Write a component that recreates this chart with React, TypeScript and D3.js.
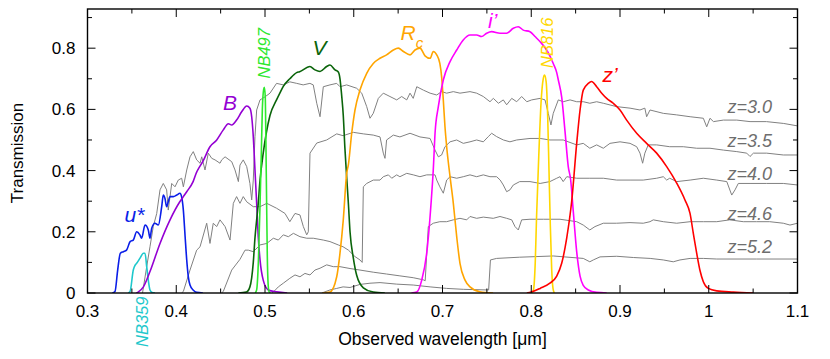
import React from 'react';
import * as d3 from 'd3';

type Pt = [number, number];

// ---------- axis ticks ----------
const xMajorTicks = [0.3, 0.4, 0.5, 0.6, 0.7, 0.8, 0.9, 1.0, 1.1];
const xTickLabels = ['0.3', '0.4', '0.5', '0.6', '0.7', '0.8', '0.9', '1', '1.1'];
const xMinorTicks = [0.35, 0.45, 0.55, 0.65, 0.75, 0.85, 0.95, 1.05];
const yMajorTicks = [0, 0.2, 0.4, 0.6, 0.8];
const yTickLabels = ['0', '0.2', '0.4', '0.6', '0.8'];
const yMinorTicks = [0.1, 0.3, 0.5, 0.7, 0.9];

// ---------- filter transmission curves [wavelength µm, transmission] ----------
const uStar: Pt[] = [[0.328,0],[0.331,0.005],[0.334,0.075],[0.337,0.13],[0.3404,0.135],[0.344,0.14],[0.348,0.168],[0.3516,0.173],[0.3554,0.2],[0.359,0.19],[0.361,0.179],[0.3648,0.222],[0.3685,0.206],[0.3704,0.179],[0.3723,0.211],[0.376,0.228],[0.3798,0.222],[0.3836,0.282],[0.3854,0.32],[0.3873,0.309],[0.3892,0.282],[0.391,0.298],[0.393,0.315],[0.3967,0.315],[0.4005,0.32],[0.4042,0.326],[0.406,0.315],[0.408,0.271],[0.41,0.184],[0.4118,0.108],[0.4136,0.053],[0.4155,0.026],[0.419,0.01],[0.423,0.002],[0.43,0]];
const nb359: Pt[] = [[0.346,0],[0.348,0.005],[0.3516,0.075],[0.3535,0.09],[0.3554,0.097],[0.359,0.113],[0.363,0.13],[0.3648,0.13],[0.3667,0.086],[0.3685,0.042],[0.3704,0.01],[0.3727,0.002],[0.376,0]];
const bBand: Pt[] = [[0.355,0],[0.357,0.003],[0.363,0.02],[0.3704,0.07],[0.3817,0.162],[0.393,0.239],[0.404,0.298],[0.408,0.315],[0.4118,0.331],[0.419,0.364],[0.423,0.395],[0.4248,0.405],[0.43,0.43],[0.438,0.478],[0.4456,0.5],[0.453,0.533],[0.4587,0.553],[0.4625,0.549],[0.468,0.565],[0.4737,0.592],[0.4794,0.611],[0.483,0.604],[0.485,0.576],[0.4868,0.511],[0.4887,0.402],[0.4906,0.293],[0.4924,0.184],[0.4944,0.108],[0.498,0.042],[0.5037,0.01],[0.513,0.004],[0.525,0]];
const nb497: Pt[] = [[0.489,0],[0.4906,0.01],[0.4925,0.1],[0.4945,0.3],[0.4958,0.45],[0.497,0.6],[0.4985,0.665],[0.4993,0.672],[0.5003,0.64],[0.501,0.5],[0.5018,0.3],[0.5026,0.12],[0.5035,0.03],[0.5045,0.005],[0.506,0]];
const vBand: Pt[] = [[0.47,0],[0.479,0.003],[0.483,0.02],[0.4868,0.1],[0.4887,0.18],[0.4924,0.293],[0.4944,0.369],[0.498,0.457],[0.5056,0.58],[0.513,0.631],[0.517,0.655],[0.5206,0.675],[0.528,0.7],[0.5357,0.72],[0.539,0.723],[0.5506,0.74],[0.5563,0.729],[0.562,0.724],[0.5695,0.74],[0.5732,0.745],[0.5789,0.729],[0.5826,0.722],[0.5845,0.7],[0.5864,0.645],[0.5882,0.58],[0.59,0.475],[0.592,0.38],[0.594,0.29],[0.5958,0.2],[0.5995,0.115],[0.6033,0.058],[0.6108,0.017],[0.622,0.003],[0.635,0]];
const rcBand: Pt[] = [[0.565,0],[0.5732,0.003],[0.5808,0.053],[0.5845,0.13],[0.5882,0.239],[0.592,0.39],[0.594,0.42],[0.5977,0.522],[0.6014,0.598],[0.607,0.663],[0.6146,0.718],[0.622,0.75],[0.6296,0.767],[0.637,0.778],[0.6446,0.794],[0.6502,0.8],[0.656,0.789],[0.6634,0.778],[0.669,0.794],[0.6746,0.8],[0.6803,0.775],[0.686,0.767],[0.6896,0.789],[0.6935,0.778],[0.697,0.75],[0.699,0.707],[0.7009,0.631],[0.7028,0.543],[0.7047,0.478],[0.7085,0.38],[0.7122,0.293],[0.716,0.184],[0.7197,0.097],[0.7254,0.042],[0.731,0.02],[0.742,0.004],[0.757,0]];
const iBand: Pt[] = [[0.665,0],[0.671,0.003],[0.6766,0.042],[0.6822,0.13],[0.688,0.33],[0.6896,0.402],[0.6916,0.522],[0.6953,0.609],[0.7009,0.696],[0.7085,0.756],[0.716,0.794],[0.7234,0.827],[0.731,0.843],[0.7385,0.843],[0.744,0.838],[0.7498,0.849],[0.7554,0.854],[0.7648,0.849],[0.7723,0.849],[0.7798,0.865],[0.7854,0.87],[0.791,0.859],[0.7986,0.854],[0.8042,0.838],[0.81,0.821],[0.8174,0.794],[0.8248,0.75],[0.8287,0.72],[0.8305,0.696],[0.8343,0.64],[0.838,0.53],[0.8417,0.413],[0.8444,0.37],[0.8474,0.265],[0.8512,0.135],[0.855,0.055],[0.8586,0.025],[0.8643,0.01],[0.8737,0.002],[0.885,0]];
const nb816: Pt[] = [[0.8005,0],[0.8025,0.01],[0.8045,0.1],[0.806,0.25],[0.8085,0.45],[0.811,0.62],[0.8135,0.7],[0.815,0.712],[0.8168,0.69],[0.8185,0.58],[0.82,0.4],[0.8215,0.22],[0.823,0.08],[0.8245,0.015],[0.826,0]];
const zBand: Pt[] = [[0.795,0],[0.8,0.003],[0.81,0.015],[0.821,0.032],[0.8287,0.055],[0.8343,0.097],[0.84,0.18],[0.8456,0.3],[0.8512,0.489],[0.855,0.598],[0.8586,0.663],[0.8643,0.685],[0.868,0.691],[0.8737,0.674],[0.8794,0.653],[0.885,0.636],[0.8924,0.62],[0.9,0.598],[0.9075,0.565],[0.9188,0.522],[0.93,0.489],[0.9413,0.457],[0.9526,0.413],[0.9639,0.359],[0.9732,0.304],[0.9789,0.26],[0.9826,0.195],[0.9864,0.13],[0.99,0.075],[0.9939,0.037],[0.9995,0.015],[1.009,0.007],[1.0277,0.003],[1.05,0]];

// ---------- model galaxy spectra (arbitrary scaling) ----------
const specZ30: Pt[] = [[0.362,0],[0.3667,0.086],[0.3704,0.151],[0.3741,0.217],[0.378,0.26],[0.3817,0.337],[0.3854,0.358],[0.3892,0.337],[0.391,0.271],[0.3949,0.358],[0.3986,0.347],[0.4023,0.369],[0.4061,0.375],[0.408,0.347],[0.4118,0.402],[0.4155,0.445],[0.4192,0.462],[0.423,0.435],[0.4268,0.424],[0.4287,0.445],[0.4324,0.402],[0.4361,0.457],[0.44,0.44],[0.4437,0.435],[0.4493,0.424],[0.4512,0.435],[0.455,0.445],[0.4625,0.429],[0.4662,0.402],[0.47,0.364],[0.4718,0.418],[0.4755,0.435],[0.4794,0.413],[0.483,0.358],[0.485,0.304],[0.4868,0.369],[0.4887,0.511],[0.4906,0.598],[0.4944,0.631],[0.5,0.641],[0.5056,0.653],[0.513,0.685],[0.5206,0.68],[0.528,0.69],[0.5357,0.685],[0.543,0.68],[0.5506,0.685],[0.5544,0.68],[0.5583,0.62],[0.562,0.576],[0.5657,0.674],[0.5732,0.68],[0.5808,0.685],[0.5845,0.674],[0.592,0.68],[0.6033,0.669],[0.609,0.653],[0.6146,0.609],[0.6183,0.571],[0.622,0.587],[0.6277,0.636],[0.6333,0.653],[0.6408,0.642],[0.6484,0.631],[0.654,0.642],[0.6597,0.631],[0.6634,0.653],[0.667,0.636],[0.671,0.674],[0.6784,0.663],[0.686,0.653],[0.6935,0.647],[0.699,0.658],[0.7047,0.653],[0.7122,0.658],[0.7197,0.653],[0.731,0.658],[0.7385,0.653],[0.746,0.642],[0.7535,0.625],[0.7573,0.636],[0.763,0.62],[0.7685,0.631],[0.7723,0.615],[0.778,0.636],[0.7836,0.625],[0.7892,0.642],[0.795,0.625],[0.8005,0.631],[0.81,0.636],[0.8155,0.631],[0.8192,0.587],[0.8222,0.549],[0.8248,0.587],[0.8305,0.631],[0.836,0.625],[0.8437,0.631],[0.8512,0.625],[0.8587,0.625],[0.866,0.62],[0.8737,0.625],[0.8812,0.62],[0.8962,0.609],[0.9113,0.604],[0.9225,0.598],[0.928,0.604],[0.93,0.576],[0.9338,0.598],[0.9488,0.587],[0.9639,0.582],[0.979,0.576],[0.9939,0.571],[0.9977,0.543],[1.0014,0.571],[1.0053,0.56],[1.0165,0.565],[1.0316,0.565],[1.0465,0.56],[1.065,0.56],[1.0845,0.554],[1.1,0.546]];
const specZ35: Pt[] = [[0.406,0],[0.408,0.005],[0.4155,0.075],[0.423,0.14],[0.4268,0.151],[0.4343,0.228],[0.438,0.162],[0.4417,0.228],[0.4456,0.217],[0.4493,0.239],[0.455,0.217],[0.4606,0.173],[0.4643,0.293],[0.468,0.315],[0.4718,0.293],[0.4755,0.315],[0.4794,0.298],[0.4868,0.282],[0.4944,0.282],[0.502,0.293],[0.513,0.277],[0.5225,0.26],[0.528,0.233],[0.5338,0.26],[0.5394,0.255],[0.5432,0.217],[0.547,0.19],[0.5488,0.2],[0.5507,0.457],[0.5583,0.49],[0.5695,0.5],[0.5808,0.52],[0.588,0.514],[0.5995,0.525],[0.6108,0.52],[0.622,0.516],[0.6296,0.51],[0.6333,0.457],[0.6352,0.44],[0.637,0.5],[0.6446,0.516],[0.652,0.51],[0.6634,0.522],[0.6746,0.51],[0.686,0.505],[0.6916,0.467],[0.6953,0.445],[0.699,0.451],[0.7028,0.478],[0.7085,0.494],[0.716,0.5],[0.7234,0.489],[0.731,0.494],[0.7385,0.5],[0.746,0.494],[0.7516,0.511],[0.7554,0.522],[0.761,0.511],[0.7686,0.5],[0.776,0.494],[0.7836,0.5],[0.7986,0.505],[0.81,0.505],[0.821,0.5],[0.836,0.5],[0.8512,0.484],[0.8586,0.489],[0.866,0.473],[0.8737,0.484],[0.8812,0.473],[0.8887,0.489],[0.9,0.494],[0.9113,0.489],[0.9188,0.478],[0.9225,0.457],[0.9255,0.424],[0.928,0.457],[0.9318,0.484],[0.9413,0.484],[0.956,0.478],[0.9713,0.478],[0.9864,0.473],[1.0014,0.473],[1.0165,0.467],[1.0316,0.462],[1.0428,0.457],[1.0465,0.446],[1.0503,0.457],[1.0653,0.457],[1.084,0.451],[1.1,0.451]];
const specZ40: Pt[] = [[0.451,0],[0.453,0.005],[0.4625,0.075],[0.4718,0.11],[0.4775,0.14],[0.4812,0.14],[0.4868,0.135],[0.4944,0.157],[0.502,0.162],[0.5094,0.179],[0.515,0.173],[0.5206,0.19],[0.5263,0.184],[0.532,0.195],[0.5394,0.184],[0.547,0.179],[0.5544,0.179],[0.5657,0.173],[0.5732,0.168],[0.5826,0.157],[0.588,0.151],[0.594,0.14],[0.6014,0.119],[0.607,0.108],[0.6095,0.1],[0.6108,0.347],[0.6146,0.358],[0.622,0.369],[0.6296,0.369],[0.6333,0.38],[0.639,0.386],[0.6428,0.375],[0.6484,0.386],[0.652,0.38],[0.6597,0.391],[0.6671,0.386],[0.6746,0.38],[0.6822,0.386],[0.6916,0.386],[0.6935,0.369],[0.697,0.347],[0.7009,0.326],[0.7047,0.369],[0.7085,0.38],[0.716,0.375],[0.7234,0.38],[0.731,0.386],[0.7385,0.38],[0.746,0.386],[0.7535,0.38],[0.761,0.38],[0.765,0.369],[0.7685,0.353],[0.7723,0.331],[0.776,0.337],[0.7798,0.353],[0.787,0.364],[0.7986,0.364],[0.81,0.358],[0.821,0.364],[0.8287,0.375],[0.8324,0.38],[0.836,0.364],[0.84,0.38],[0.8512,0.375],[0.866,0.375],[0.8812,0.375],[0.8962,0.369],[0.9113,0.369],[0.9262,0.369],[0.9413,0.375],[0.9488,0.38],[0.9526,0.369],[0.956,0.375],[0.9639,0.364],[0.979,0.369],[0.9939,0.375],[1.009,0.369],[1.0203,0.364],[1.0259,0.32],[1.0296,0.337],[1.0333,0.358],[1.0465,0.358],[1.0653,0.358],[1.084,0.358],[1.1,0.353]];
const specZ46: Pt[] = [[0.508,0],[0.5094,0.003],[0.515,0.02],[0.5206,0.032],[0.528,0.048],[0.5338,0.059],[0.5394,0.053],[0.545,0.064],[0.5507,0.059],[0.5563,0.075],[0.562,0.081],[0.5695,0.092],[0.577,0.086],[0.5845,0.086],[0.5958,0.08],[0.607,0.075],[0.622,0.068],[0.637,0.062],[0.652,0.056],[0.667,0.05],[0.6784,0.043],[0.6805,0.04],[0.684,0.217],[0.6896,0.228],[0.697,0.233],[0.7047,0.233],[0.7122,0.239],[0.7197,0.244],[0.7273,0.239],[0.731,0.25],[0.7385,0.244],[0.746,0.248],[0.7572,0.244],[0.7648,0.25],[0.7723,0.244],[0.778,0.239],[0.7817,0.217],[0.7854,0.206],[0.7892,0.239],[0.7986,0.241],[0.8136,0.241],[0.8324,0.241],[0.8512,0.233],[0.8586,0.222],[0.866,0.206],[0.8718,0.217],[0.8812,0.228],[0.8962,0.228],[0.9113,0.23],[0.9262,0.228],[0.9338,0.233],[0.9375,0.239],[0.9488,0.233],[0.9639,0.228],[0.979,0.233],[0.9939,0.233],[1.009,0.233],[1.0236,0.239],[1.0389,0.233],[1.054,0.233],[1.0687,0.233],[1.084,0.228],[1.0915,0.222],[1.1,0.228]];
const specZ52: Pt[] = [[0.564,0],[0.5732,0.01],[0.5808,0.015],[0.588,0.02],[0.5958,0.018],[0.607,0.028],[0.6183,0.032],[0.6296,0.034],[0.6484,0.029],[0.667,0.026],[0.686,0.02],[0.7047,0.015],[0.7234,0.012],[0.7498,0.01],[0.752,0.01],[0.754,0.108],[0.761,0.113],[0.787,0.117],[0.8248,0.121],[0.8586,0.113],[0.866,0.102],[0.8699,0.108],[0.8775,0.118],[0.8963,0.12],[0.915,0.116],[0.934,0.113],[0.9488,0.108],[0.96,0.102],[0.9676,0.108],[0.979,0.113],[0.9939,0.113],[1.009,0.111],[1.054,0.111],[1.1,0.111]];

const spectra = [specZ30, specZ35, specZ40, specZ46, specZ52];
const spectrumLabels = ['z=3.0', 'z=3.5', 'z=4.0', 'z=4.6', 'z=5.2'];

const FONT = '"Liberation Sans", Arial, Helvetica, sans-serif';

export default function App() {
  const W = 830, H = 359;
  const left = 87.5, right = 797.5, top = 9, bottom = 293;
  const x = d3.scaleLinear().domain([0.3, 1.1]).range([left, right]);
  const y = d3.scaleLinear().domain([0, 0.928]).range([bottom, top]);

  const smooth = d3.line<Pt>().x(d => x(d[0])).y(d => y(d[1])).curve(d3.curveMonotoneX);
  const jagged = d3.line<Pt>().x(d => x(d[0])).y(d => y(d[1]));

  const filters: { data: Pt[]; color: string }[] = [
    { data: uStar, color: '#0a1ee8' },
    { data: nb359, color: '#1ec8cc' },
    { data: bBand, color: '#9400d3' },
    { data: vBand, color: '#0a640a' },
    { data: nb497, color: '#2ee82e' },
    { data: rcBand, color: '#ffa500' },
    { data: iBand, color: '#ff00ff' },
    { data: nb816, color: '#ffd700' },
    { data: zBand, color: '#ff0000' },
  ];

  const majLen = 8, minLen = 4.5;
  const specLabelY = [113, 146.5, 180, 219.5, 253];

  return (
    <svg width={W} height={H} style={{ position: 'absolute', left: 0, top: 0, background: '#fff' }}
      fontFamily={FONT}>
      <defs>
        <clipPath id="plotclip">
          <rect x={left} y={top} width={right - left} height={bottom - top} />
        </clipPath>
      </defs>
      <rect x={0} y={0} width={W} height={H} fill="#fff" />
      <g clipPath="url(#plotclip)">
        {spectra.map((s, i) => (
          <path key={'s' + i} d={jagged(s) || ''} fill="none" stroke="#808080" strokeWidth={1} />
        ))}
        {filters.map((f, i) => (
          <path key={'f' + i} d={smooth(f.data) || ''} fill="none" stroke={f.color} strokeWidth={1.6} />
        ))}
      </g>

      {/* spectrum labels */}
      {spectrumLabels.map((t, i) => (
        <text key={'sl' + i} x={727.5} y={specLabelY[i]} fontSize={18} fontStyle="italic" fill="#6e6e6e">{t}</text>
      ))}

      {/* filter labels */}
      <text x={124.5} y={221.5} fontSize={21} fontStyle="italic" fill="#0a1ee8">u*</text>
      <text x={223} y={110} fontSize={21} fontStyle="italic" fill="#9400d3">B</text>
      <text x={312.5} y={55} fontSize={21} fontStyle="italic" fill="#0a640a">V</text>
      <text x={400.5} y={40} fontSize={21} fontStyle="italic" fill="#ffa500">R<tspan fontSize={15} dy={8}>c</tspan></text>
      <text x={488} y={28} fontSize={21} fontStyle="italic" fill="#ff00ff">i’</text>
      <text x={602.5} y={81.5} fontSize={21} fontStyle="italic" fill="#ff0000">z’</text>
      <text transform="translate(147.5,347) rotate(-90)" fontSize={16.5} fontStyle="italic" fill="#1ec8cc">NB359</text>
      <text transform="translate(269.5,78.5) rotate(-90)" fontSize={16.5} fontStyle="italic" fill="#2ee82e">NB497</text>
      <text transform="translate(552.5,68) rotate(-90)" fontSize={16.5} fontStyle="italic" fill="#ffd700">NB816</text>

      {/* ticks */}
      <g stroke="#000" strokeWidth={1}>
        {xMajorTicks.map((t, i) => (
          <g key={'xm' + i}>
            <line x1={x(t)} x2={x(t)} y1={bottom} y2={bottom - majLen} />
            <line x1={x(t)} x2={x(t)} y1={top} y2={top + majLen} />
          </g>
        ))}
        {xMinorTicks.map((t, i) => (
          <g key={'xn' + i}>
            <line x1={x(t)} x2={x(t)} y1={bottom} y2={bottom - minLen} />
            <line x1={x(t)} x2={x(t)} y1={top} y2={top + minLen} />
          </g>
        ))}
        {yMajorTicks.map((t, i) => (
          <g key={'ym' + i}>
            <line x1={left} x2={left + majLen} y1={y(t)} y2={y(t)} />
            <line x1={right} x2={right - majLen} y1={y(t)} y2={y(t)} />
          </g>
        ))}
        {yMinorTicks.map((t, i) => (
          <g key={'yn' + i}>
            <line x1={left} x2={left + minLen} y1={y(t)} y2={y(t)} />
            <line x1={right} x2={right - minLen} y1={y(t)} y2={y(t)} />
          </g>
        ))}
      </g>
      <rect x={left} y={top} width={right - left} height={bottom - top} fill="none" stroke="#000" strokeWidth={1.4} />

      {/* tick labels */}
      {xMajorTicks.map((t, i) => (
        <text key={'xl' + i} x={x(t)} y={317} fontSize={17} textAnchor="middle" fill="#000">{xTickLabels[i]}</text>
      ))}
      {yMajorTicks.map((t, i) => (
        <text key={'yl' + i} x={75.5} y={y(t) + 6} fontSize={17} textAnchor="end" fill="#000">{yTickLabels[i]}</text>
      ))}

      {/* axis titles */}
      <text x={(left + right) / 2} y={345} fontSize={17.5} textAnchor="middle" fill="#000">Observed wavelength [μm]</text>
      <text transform={`translate(23,${(top + bottom) / 2 + 2}) rotate(-90)`} fontSize={17} textAnchor="middle" fill="#000">Transmission</text>
    </svg>
  );
}
